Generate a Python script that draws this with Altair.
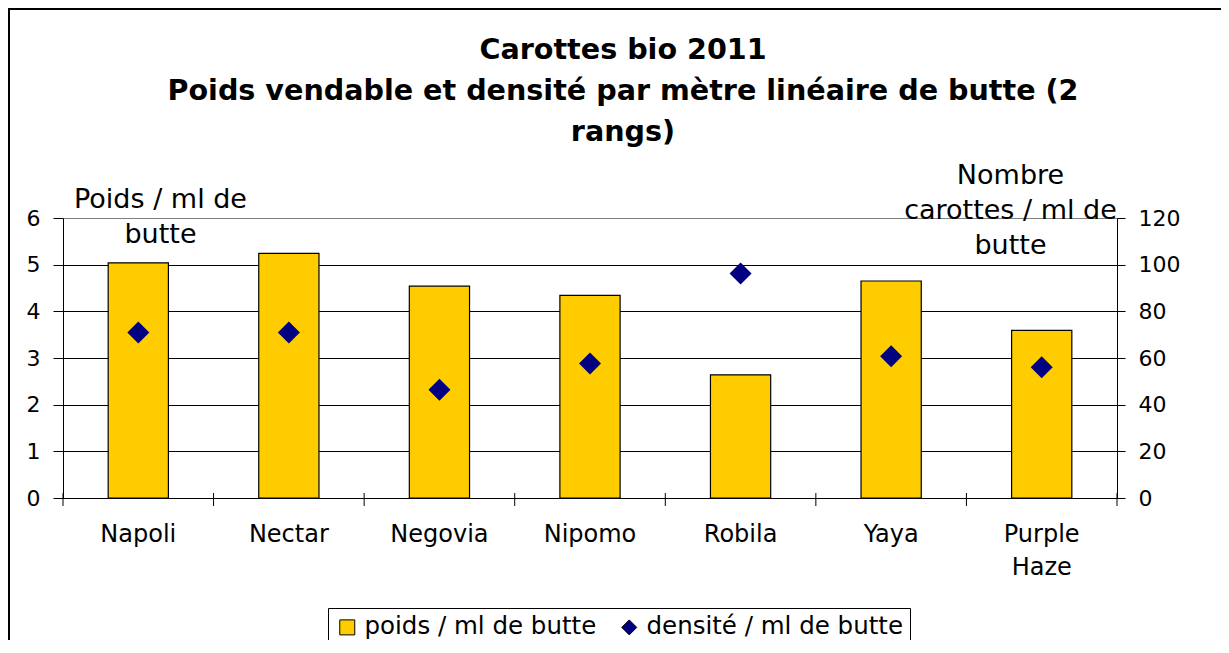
import altair as alt
import pandas as pd

# ---- data ----
varietes = ["Napoli", "Nectar", "Negovia", "Nipomo", "Robila", "Yaya", "Purple Haze"]
poids = [5.04, 5.24, 4.54, 4.34, 2.64, 4.65, 3.59]          # left axis (0-6)
densite = [70.9, 70.9, 46.4, 57.6, 96.2, 60.7, 56.0]        # right axis (0-120)
serie_poids = "poids / ml de butte"
serie_densite = "densité / ml de butte"
left_ticks = [0, 1, 2, 3, 4, 5, 6]
right_ticks = [0, 20, 40, 60, 80, 100, 120]

df = pd.DataFrame({"variete": varietes, "poids": poids, "densite": densite,
                   "serie": [serie_densite] * len(varietes)})
df_last = df.tail(1)

W, H = 1054, 280
STEP = W / len(varietes)
FONT = "DejaVu Sans"

x_enc = alt.X(
    "variete:N",
    sort=varietes,
    scale=alt.Scale(domain=varietes, paddingInner=0, paddingOuter=0),
    axis=alt.Axis(
        title=None, labelAngle=0, ticks=False, tickSize=0,
        labelExpr="split(datum.label, ' ')",
        labelFontSize=24, labelLineHeight=33, labelPadding=24,
        labelColor="black", domainColor="black", domainWidth=1,
    ),
)

frame = alt.Chart(pd.DataFrame({"k": [0]})).mark_rect(
    fill="transparent", stroke="black", strokeWidth=2
).encode(
    x=alt.value(-54), x2=alt.value(1250), y=alt.value(-209), y2=alt.value(700)
)

bars = alt.Chart(df).mark_bar(
    color="#FFCC00", stroke="black", strokeWidth=1.2, opacity=1,
    width=alt.RelativeBandSize(0.4),
).encode(
    x=x_enc,
    y=alt.Y(
        "poids:Q",
        scale=alt.Scale(domain=[0, 6], nice=False),
        axis=alt.Axis(
            values=left_ticks, format="d", orient="left",
            grid=True,
            gridColor={"condition": {"test": "datum.value === 6", "value": "#808080"}, "value": "black"},
            gridWidth=1.2,
            tickSize=10, tickColor="black", domainColor="black",
            labelFontSize=22, labelPadding=13, labelColor="black",
            title=["Poids / ml de", "butte"],
            titleAngle=0, titleX=97, titleY=-19, titleAlign="center", titleBaseline="middle",
            titleFontSize=27, titleFontWeight="normal", titleLineHeight=35, titleColor="black",
        ),
    ),
)

xticks = alt.Chart(df).mark_rule(color="black", strokeWidth=1, xOffset=-STEP / 2).encode(
    x=x_enc, y=alt.value(H - 5), y2=alt.value(H + 8)
)
xticks_end = alt.Chart(df_last).mark_rule(color="black", strokeWidth=1, xOffset=STEP / 2).encode(
    x=x_enc, y=alt.value(H - 5), y2=alt.value(H + 8)
)

legend_opts = dict(
    title=None, orient="none", legendX=265, legendY=390, direction="horizontal",
    labelFontSize=24.5, labelColor="black", labelLimit=0, symbolSize=225,
    symbolStrokeColor="black", symbolStrokeWidth=1,
    strokeColor="black", fillColor="white", padding=7,
    labelOffset=5, columnPadding=20,
)

points = alt.Chart(df).mark_point(
    filled=True, size=484, opacity=1
).encode(
    x=x_enc,
    y=alt.Y(
        "densite:Q",
        scale=alt.Scale(domain=[0, 120], nice=False),
        axis=alt.Axis(
            values=right_ticks, orient="right", grid=False,
            tickSize=8, tickColor="black", domainColor="black",
            labelFontSize=22, labelPadding=13, labelColor="black",
            title=["Nombre", "carottes / ml de", "butte"],
            titleAngle=0, titleX=-107, titleY=-43, titleAlign="center", titleBaseline="middle",
            titleFontSize=27, titleFontWeight="normal", titleLineHeight=35, titleColor="black",
        ),
    ),
    color=alt.Color(
        "serie:N",
        scale=alt.Scale(domain=[serie_poids, serie_densite], range=["#FFCC00", "#000080"]),
        legend=alt.Legend(**legend_opts),
    ),
    shape=alt.Shape(
        "serie:N",
        scale=alt.Scale(domain=[serie_poids, serie_densite], range=["square", "diamond"]),
        legend=alt.Legend(**legend_opts),
    ),
)

chart = alt.layer(frame, bars, xticks, xticks_end, points).resolve_scale(
    y="independent"
).properties(
    width=W, height=H,
    title=alt.Title(
        text=["Carottes bio 2011",
              "Poids vendable et densité par mètre linéaire de butte (2",
              "rangs)"],
        fontSize=28.6, font=FONT, fontWeight="bold", lineHeight=41, color="black",
        anchor="middle", frame="group", dx=33, dy=154, offset=15,
    ),
    autosize=alt.AutoSizeParams(type="none"),
    padding={"left": 55, "top": 210, "right": 104, "bottom": 142},
).configure(
    font=FONT, background="white"
).configure_view(
    stroke=None
)

chart.save("out.html", embed_options={"renderer": "svg", "actions": False})
